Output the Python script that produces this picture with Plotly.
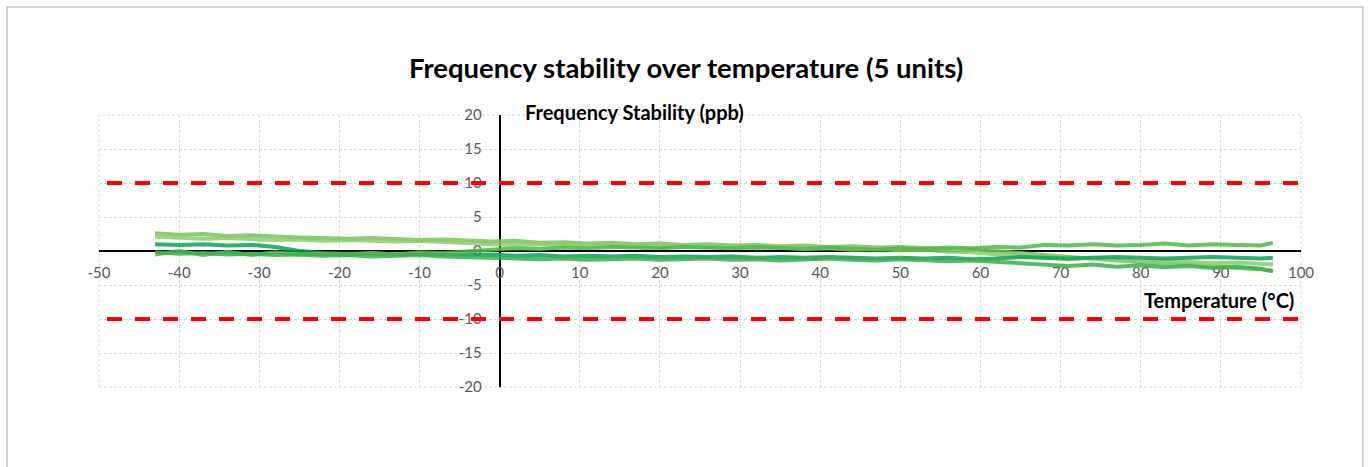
import plotly.graph_objects as go

# Temperature points (°C)
TEMP = [-43, -40, -37, -34, -31, -28, -25, -22, -19, -16, -13, -10, -7, -4, -1,
        2, 5, 8, 11, 14, 17, 20, 23, 26, 29, 32, 35, 38, 41, 44, 47, 50, 53, 56,
        59, 62, 65, 68, 71, 74, 77, 80, 83, 86, 89, 92, 95, 96.5]

# Frequency stability (ppb) of the 5 units
UNIT_1 = [2.6, 2.4, 2.5, 2.2, 2.3, 2.1, 2.0, 1.9, 1.8, 1.9, 1.7, 1.6, 1.7, 1.5, 1.4,
          1.5, 1.2, 1.3, 1.1, 1.2, 1.0, 1.1, 0.9, 1.0, 0.8, 0.9, 0.7, 0.8, 0.6, 0.7,
          0.5, 0.6, 0.4, 0.3, 0.2, 0.0, -0.3, -0.6, -0.9, -1.1, -1.4, -1.6, -1.9,
          -2.0, -2.3, -2.5, -2.7, -2.9]
UNIT_2 = [2.1, 2.0, 1.8, 1.9, 1.7, 1.6, 1.7, 1.5, 1.6, 1.5, 1.4, 1.5, 1.3, 1.2, 1.0,
          0.9, 1.0, 0.8, 0.9, 0.7, 0.8, 0.6, 0.7, 0.5, 0.6, 0.4, 0.5, 0.3, 0.4, 0.2,
          0.3, 0.1, 0.2, -0.1, -0.2, -0.5, -0.8, -1.0, -1.2, -1.0, -1.3, -1.5, -1.4,
          -1.6, -1.8, -1.7, -1.9, -2.0]
UNIT_3 = [1.0, 0.9, 1.0, 0.8, 0.9, 0.6, 0.0, -0.3, -0.4, -0.3, -0.5, -0.4, -0.5, -0.6,
          -0.5, -0.7, -0.6, -0.8, -0.7, -0.8, -0.7, -0.9, -0.8, -0.9, -0.8, -1.0, -0.9,
          -1.0, -0.9, -1.0, -1.1, -1.0, -1.1, -1.0, -1.2, -1.1, -0.9, -1.0, -1.1, -1.0,
          -0.9, -1.0, -1.1, -1.0, -0.9, -1.0, -1.1, -1.0]
UNIT_4 = [-0.5, 0.0, -0.6, -0.1, -0.6, -0.2, -0.5, -0.4, -0.6, -0.3, -0.5, -0.2, -0.3,
          0.0, 0.2, 0.4, 0.3, 0.5, 0.4, 0.6, 0.5, 0.4, 0.6, 0.5, 0.4, 0.6, 0.5, 0.3, 0.5,
          0.4, 0.2, 0.4, 0.3, 0.5, 0.4, 0.6, 0.5, 0.9, 0.8, 1.0, 0.8, 0.9, 1.1, 0.8, 1.0,
          0.9, 0.8, 1.2]
UNIT_5 = [-0.2, -0.4, -0.3, -0.5, -0.4, -0.6, -0.5, -0.7, -0.6, -0.8, -0.7, -0.6, -0.8,
          -0.9, -1.0, -1.1, -1.2, -1.1, -1.3, -1.2, -1.1, -1.3, -1.2, -1.1, -1.3, -1.2,
          -1.4, -1.3, -1.1, -1.3, -1.4, -1.2, -1.3, -1.5, -1.4, -1.6, -1.8, -2.0, -2.2,
          -2.0, -2.3, -2.1, -2.4, -2.2, -2.5, -2.3, -2.6, -3.0]

UNITS = [UNIT_1, UNIT_2, UNIT_3, UNIT_4, UNIT_5]
UNIT_NAMES = ["Unit 1", "Unit 2", "Unit 3", "Unit 4", "Unit 5"]
UNIT_COLORS = ["#78C35C", "#8CCD6C", "#0AA356", "#52B848", "#3CAF4E"]

# Limits (ppb)
LIMIT_X = [-49, 100]
LIMIT_HI = [10, 10]
LIMIT_LO = [-10, -10]

# Tick labels
X_TICKS = [-50, -40, -30, -20, -10, 0, 10, 20, 30, 40, 50, 60, 70, 80, 90, 100]
X_TICK_TEXT = ["-50", "-40", "-30", "-20", "-10", "0", "10", "20", "30", "40",
               "50", "60", "70", "80", "90", "100"]
Y_TICKS = [-20, -15, -10, -5, 0, 5, 10, 15, 20]
Y_TICK_TEXT = ["-20", "-15", "-10", "-5", "0", "5", "10", "15", "20"]

TITLE = "Frequency stability over temperature (5 units)"
X_TITLE = "Temperature (°C)"
Y_TITLE = "Frequency Stability (ppb)"

FONT = "Lato"

fig = go.Figure()

for vals, name, col in zip(UNITS, UNIT_NAMES, UNIT_COLORS):
    fig.add_trace(go.Scatter(x=TEMP, y=vals, mode="lines", name=name,
                             line=dict(color=col, width=4), opacity=0.85))

for lim in (LIMIT_HI, LIMIT_LO):
    fig.add_trace(go.Scatter(x=LIMIT_X, y=lim, mode="lines", showlegend=False,
                             line=dict(color="#FF0000", width=4, dash="15px,13px")))

W, H = 1370, 467
L, R, T, B = 99, 69, 115, 80
pw, ph = W - L - R, H - T - B

def px_x(p):
    return (p - L) / pw

def px_y(p):
    return (H - B - p) / ph

GRID = "#D9D9D9"
GRID_DASH = "3px,2px"

fig.update_layout(
    width=W, height=H,
    margin=dict(l=L, r=R, t=T, b=B),
    paper_bgcolor="white", plot_bgcolor="white",
    showlegend=False,
    font=dict(family=FONT, color="#595959", size=15),
    xaxis=dict(range=[-50, 100], tickmode="array", tickvals=X_TICKS, ticktext=X_TICK_TEXT,
               anchor="free", position=0.5, layer="below traces",
               showline=True, linecolor="black", linewidth=2,
               showgrid=True, gridcolor=GRID, griddash=GRID_DASH, gridwidth=1,
               zeroline=False, ticks="outside", ticklen=8,
               tickcolor="rgba(0,0,0,0)", tickfont=dict(size=15, color="#595959")),
    yaxis=dict(range=[-20, 20], tickmode="array", tickvals=Y_TICKS, ticktext=Y_TICK_TEXT,
               anchor="free", position=1/3, layer="below traces",
               showline=True, linecolor="black", linewidth=2,
               showgrid=True, gridcolor=GRID, griddash=GRID_DASH, gridwidth=1,
               zeroline=False, ticks="outside", ticklen=14,
               tickcolor="rgba(0,0,0,0)", tickfont=dict(size=15, color="#595959")),
    shapes=[
        dict(type="rect", xref="paper", yref="paper",
             x0=px_x(7), x1=px_x(1363), y0=px_y(475), y1=px_y(7),
             line=dict(color="#A6A6A6", width=1), fillcolor="rgba(0,0,0,0)",
             layer="below"),
        dict(type="rect", xref="paper", yref="paper", x0=0, x1=1, y0=0, y1=1,
             line=dict(color=GRID, width=1, dash=GRID_DASH),
             fillcolor="rgba(0,0,0,0)", layer="below"),
    ],
    annotations=[
        dict(text="<b>" + TITLE + "</b>", xref="paper", yref="paper",
             x=px_x(686), y=px_y(68), xanchor="center", yanchor="middle",
             showarrow=False, font=dict(family=FONT, size=27.5, color="black")),
        dict(text="<b>" + Y_TITLE + "</b>", xref="paper", yref="paper",
             x=px_x(523), y=px_y(112), xanchor="left", yanchor="middle",
             showarrow=False, font=dict(family=FONT, size=20, color="black")),
        dict(text="<b>" + X_TITLE + "</b>", xref="paper", yref="paper",
             x=px_x(1296), y=px_y(300), xanchor="right", yanchor="middle",
             showarrow=False, font=dict(family=FONT, size=20, color="black")),
    ],
)

fig.write_html("out.html", config={"displayModeBar": False},
               post_script="document.body.style.margin='0';")
